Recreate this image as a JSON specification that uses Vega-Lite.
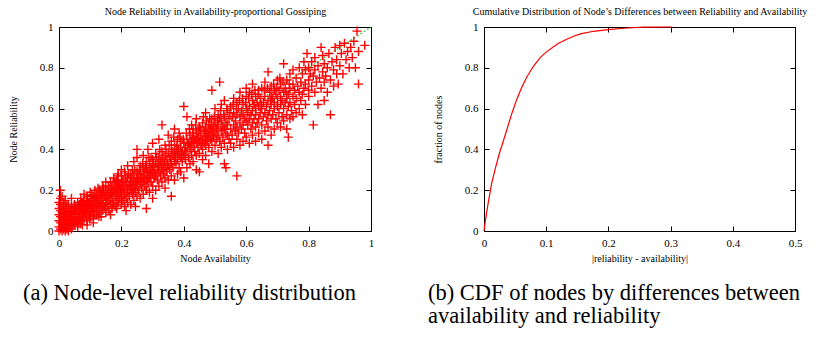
{
  "$schema": "https://vega.github.io/schema/vega-lite/v6.json",
  "padding": {"left": 7, "top": 6, "right": 0, "bottom": 0},
  "background": "#ffffff",
  "spacing": 52,
  "datasets": {
    "diag": [{"a": 0, "r": 0}, {"a": 1, "r": 1}],
    "cdf": [
      {"d": 0, "f": 0}, {"d": 0.002, "f": 0.045}, {"d": 0.005, "f": 0.105}, {"d": 0.008, "f": 0.16}, {"d": 0.0124, "f": 0.235},
      {"d": 0.018, "f": 0.305}, {"d": 0.0247, "f": 0.38}, {"d": 0.03, "f": 0.43}, {"d": 0.0366, "f": 0.495}, {"d": 0.0446, "f": 0.575},
      {"d": 0.0527, "f": 0.645}, {"d": 0.06, "f": 0.7}, {"d": 0.0688, "f": 0.755}, {"d": 0.08, "f": 0.81}, {"d": 0.0903, "f": 0.85},
      {"d": 0.1, "f": 0.877}, {"d": 0.1118, "f": 0.903}, {"d": 0.12, "f": 0.92}, {"d": 0.133, "f": 0.94}, {"d": 0.145, "f": 0.956},
      {"d": 0.155, "f": 0.966}, {"d": 0.176, "f": 0.979}, {"d": 0.203, "f": 0.988}, {"d": 0.23, "f": 0.995}, {"d": 0.257, "f": 0.999},
      {"d": 0.303, "f": 1}
    ],
    "pts": [
      {"a":0,"r":0},{"a":0,"r":0.02},{"a":0,"r":0.05},{"a":0,"r":0.08},{"a":0,"r":0.11},{"a":0,"r":0.14},{"a":0.004,"r":0.2},
      {"a":0.005,"r":0.01},{"a":0.005,"r":0.04},{"a":0.005,"r":0.07},{"a":0.005,"r":0.1},{"a":0.005,"r":0.13},{"a":0.005,"r":0.16},
      {"a":0.01,"r":0},{"a":0.01,"r":0.02},{"a":0.01,"r":0.05},{"a":0.01,"r":0.09},{"a":0.01,"r":0.12},{"a":0.01,"r":0.17},
      {"a":0.015,"r":0.01},{"a":0.015,"r":0.03},{"a":0.015,"r":0.06},{"a":0.015,"r":0.1},{"a":0.015,"r":0.14},
      {"a":0.02,"r":0},{"a":0.02,"r":0.02},{"a":0.02,"r":0.04},{"a":0.02,"r":0.07},{"a":0.02,"r":0.11},{"a":0.02,"r":0.15},
      {"a":0.025,"r":0.01},{"a":0.025,"r":0.05},{"a":0.025,"r":0.08},{"a":0.025,"r":0.12},
      {"a":0.03,"r":0},{"a":0.03,"r":0.02},{"a":0.03,"r":0.04},{"a":0.03,"r":0.06},{"a":0.03,"r":0.09},{"a":0.03,"r":0.13},
      {"a":0.035,"r":0.03},{"a":0.035,"r":0.07},{"a":0.035,"r":0.1},
      {"a":0.04,"r":0.01},{"a":0.04,"r":0.05},{"a":0.04,"r":0.08},{"a":0.04,"r":0.12},{"a":0.04,"r":0.16},
      {"a":0.045,"r":0.04},{"a":0.045,"r":0.07},{"a":0.045,"r":0.11},
      {"a":0.05,"r":0.03},{"a":0.05,"r":0.06},{"a":0.05,"r":0.09},{"a":0.05,"r":0.13},
      {"a":0.055,"r":0.05},{"a":0.055,"r":0.1},{"a":0.06,"r":0.02},{"a":0.06,"r":0.04},{"a":0.06,"r":0.07},{"a":0.06,"r":0.11},{"a":0.06,"r":0.14},
      {"a":0.065,"r":0.06},{"a":0.065,"r":0.09},{"a":0.065,"r":0.13},
      {"a":0.07,"r":0.05},{"a":0.07,"r":0.08},{"a":0.07,"r":0.1},{"a":0.07,"r":0.12},{"a":0.07,"r":0.16},
      {"a":0.075,"r":0.03},{"a":0.075,"r":0.07},{"a":0.075,"r":0.11},{"a":0.075,"r":0.14},
      {"a":0.08,"r":0.06},{"a":0.08,"r":0.09},{"a":0.08,"r":0.12},{"a":0.08,"r":0.15},{"a":0.08,"r":0.18},
      {"a":0.085,"r":0.08},{"a":0.085,"r":0.11},{"a":0.085,"r":0.13},
      {"a":0.09,"r":0.03},{"a":0.09,"r":0.05},{"a":0.09,"r":0.09},{"a":0.09,"r":0.12},{"a":0.09,"r":0.15},{"a":0.09,"r":0.17},
      {"a":0.095,"r":0.08},{"a":0.095,"r":0.1},{"a":0.095,"r":0.14},
      {"a":0.1,"r":0.07},{"a":0.1,"r":0.1},{"a":0.1,"r":0.13},{"a":0.1,"r":0.16},{"a":0.1,"r":0.19},
      {"a":0.105,"r":0.09},{"a":0.105,"r":0.12},{"a":0.105,"r":0.15},
      {"a":0.11,"r":0.04},{"a":0.11,"r":0.06},{"a":0.11,"r":0.1},{"a":0.11,"r":0.13},{"a":0.11,"r":0.17},
      {"a":0.115,"r":0.11},{"a":0.115,"r":0.14},{"a":0.115,"r":0.2},
      {"a":0.12,"r":0.08},{"a":0.12,"r":0.12},{"a":0.12,"r":0.15},{"a":0.12,"r":0.18},
      {"a":0.125,"r":0.1},{"a":0.125,"r":0.13},{"a":0.125,"r":0.16},{"a":0.125,"r":0.21},
      {"a":0.13,"r":0.09},{"a":0.13,"r":0.12},{"a":0.13,"r":0.14},{"a":0.13,"r":0.17},{"a":0.13,"r":0.2},
      {"a":0.135,"r":0.07},{"a":0.135,"r":0.11},{"a":0.135,"r":0.15},{"a":0.135,"r":0.18},
      {"a":0.14,"r":0.1},{"a":0.14,"r":0.13},{"a":0.14,"r":0.16},{"a":0.14,"r":0.19},{"a":0.14,"r":0.22},
      {"a":0.145,"r":0.12},{"a":0.145,"r":0.17},
      {"a":0.15,"r":0.09},{"a":0.15,"r":0.14},{"a":0.15,"r":0.16},{"a":0.15,"r":0.2},{"a":0.15,"r":0.24},
      {"a":0.155,"r":0.12},{"a":0.155,"r":0.18},
      {"a":0.16,"r":0.1},{"a":0.16,"r":0.15},{"a":0.16,"r":0.17},{"a":0.16,"r":0.21},
      {"a":0.165,"r":0.08},{"a":0.165,"r":0.13},{"a":0.165,"r":0.19},{"a":0.165,"r":0.24},
      {"a":0.17,"r":0.11},{"a":0.17,"r":0.16},{"a":0.17,"r":0.18},{"a":0.17,"r":0.22},
      {"a":0.175,"r":0.14},{"a":0.175,"r":0.2},{"a":0.175,"r":0.26},
      {"a":0.18,"r":0.12},{"a":0.18,"r":0.17},{"a":0.18,"r":0.19},{"a":0.18,"r":0.23},
      {"a":0.185,"r":0.11},{"a":0.185,"r":0.15},{"a":0.185,"r":0.21},{"a":0.185,"r":0.25},
      {"a":0.19,"r":0.14},{"a":0.19,"r":0.18},{"a":0.19,"r":0.2},{"a":0.19,"r":0.24},{"a":0.19,"r":0.28},
      {"a":0.195,"r":0.16},{"a":0.195,"r":0.22},
      {"a":0.2,"r":0.13},{"a":0.2,"r":0.17},{"a":0.2,"r":0.21},{"a":0.2,"r":0.23},{"a":0.2,"r":0.27},{"a":0.2,"r":0.3},
      {"a":0.205,"r":0.15},{"a":0.205,"r":0.2},{"a":0.205,"r":0.25},
      {"a":0.21,"r":0.12},{"a":0.21,"r":0.18},{"a":0.21,"r":0.22},{"a":0.21,"r":0.29},
      {"a":0.215,"r":0.1},{"a":0.215,"r":0.16},{"a":0.215,"r":0.24},
      {"a":0.22,"r":0.14},{"a":0.22,"r":0.19},{"a":0.22,"r":0.21},{"a":0.22,"r":0.26},{"a":0.22,"r":0.32},
      {"a":0.225,"r":0.17},{"a":0.225,"r":0.23},
      {"a":0.23,"r":0.13},{"a":0.23,"r":0.2},{"a":0.23,"r":0.24},{"a":0.23,"r":0.28},
      {"a":0.235,"r":0.18},{"a":0.235,"r":0.22},{"a":0.235,"r":0.3},
      {"a":0.24,"r":0.15},{"a":0.24,"r":0.21},{"a":0.24,"r":0.25},{"a":0.24,"r":0.27},{"a":0.24,"r":0.34},
      {"a":0.245,"r":0.12},{"a":0.245,"r":0.19},{"a":0.245,"r":0.23},
      {"a":0.25,"r":0.17},{"a":0.25,"r":0.22},{"a":0.25,"r":0.26},{"a":0.25,"r":0.29},{"a":0.25,"r":0.36},{"a":0.25,"r":0.4},
      {"a":0.255,"r":0.2},{"a":0.255,"r":0.25},
      {"a":0.26,"r":0.16},{"a":0.26,"r":0.23},{"a":0.26,"r":0.28},{"a":0.26,"r":0.32},
      {"a":0.265,"r":0.21},{"a":0.265,"r":0.26},
      {"a":0.27,"r":0.18},{"a":0.27,"r":0.24},{"a":0.27,"r":0.27},{"a":0.27,"r":0.31},{"a":0.27,"r":0.37},
      {"a":0.275,"r":0.22},{"a":0.275,"r":0.29},
      {"a":0.28,"r":0.11},{"a":0.28,"r":0.2},{"a":0.28,"r":0.25},{"a":0.28,"r":0.3},{"a":0.28,"r":0.34},
      {"a":0.285,"r":0.23},{"a":0.285,"r":0.27},{"a":0.285,"r":0.4},
      {"a":0.29,"r":0.19},{"a":0.29,"r":0.26},{"a":0.29,"r":0.29},{"a":0.29,"r":0.33},
      {"a":0.295,"r":0.24},{"a":0.295,"r":0.31},{"a":0.295,"r":0.36},
      {"a":0.3,"r":0.16},{"a":0.3,"r":0.22},{"a":0.3,"r":0.28},{"a":0.3,"r":0.32},{"a":0.3,"r":0.35},{"a":0.3,"r":0.43},
      {"a":0.305,"r":0.26},{"a":0.305,"r":0.3},
      {"a":0.31,"r":0.2},{"a":0.31,"r":0.27},{"a":0.31,"r":0.33},{"a":0.31,"r":0.38},
      {"a":0.315,"r":0.25},{"a":0.315,"r":0.3},
      {"a":0.32,"r":0.22},{"a":0.32,"r":0.29},{"a":0.32,"r":0.32},{"a":0.32,"r":0.36},{"a":0.32,"r":0.45},
      {"a":0.325,"r":0.27},{"a":0.325,"r":0.34},
      {"a":0.33,"r":0.24},{"a":0.33,"r":0.3},{"a":0.33,"r":0.35},{"a":0.33,"r":0.39},{"a":0.33,"r":0.52},
      {"a":0.335,"r":0.28},{"a":0.335,"r":0.33},
      {"a":0.34,"r":0.21},{"a":0.34,"r":0.26},{"a":0.34,"r":0.31},{"a":0.34,"r":0.37},{"a":0.34,"r":0.42},
      {"a":0.345,"r":0.29},{"a":0.345,"r":0.35},
      {"a":0.35,"r":0.25},{"a":0.35,"r":0.32},{"a":0.35,"r":0.38},{"a":0.35,"r":0.47},
      {"a":0.355,"r":0.3},{"a":0.355,"r":0.36},
      {"a":0.36,"r":0.17},{"a":0.36,"r":0.27},{"a":0.36,"r":0.33},{"a":0.36,"r":0.4},{"a":0.36,"r":0.44},
      {"a":0.365,"r":0.31},{"a":0.365,"r":0.37},
      {"a":0.37,"r":0.25},{"a":0.37,"r":0.34},{"a":0.37,"r":0.38},{"a":0.37,"r":0.42},{"a":0.37,"r":0.5},
      {"a":0.375,"r":0.33},{"a":0.375,"r":0.4},
      {"a":0.38,"r":0.28},{"a":0.38,"r":0.35},{"a":0.38,"r":0.39},{"a":0.38,"r":0.45},
      {"a":0.385,"r":0.31},{"a":0.385,"r":0.37},{"a":0.385,"r":0.48},
      {"a":0.39,"r":0.29},{"a":0.39,"r":0.36},{"a":0.39,"r":0.41},{"a":0.39,"r":0.44},
      {"a":0.395,"r":0.34},{"a":0.395,"r":0.39},
      {"a":0.4,"r":0.26},{"a":0.4,"r":0.37},{"a":0.4,"r":0.43},{"a":0.4,"r":0.61},
      {"a":0.405,"r":0.35},{"a":0.405,"r":0.41},
      {"a":0.41,"r":0.31},{"a":0.41,"r":0.39},{"a":0.41,"r":0.45},{"a":0.41,"r":0.56},
      {"a":0.415,"r":0.36},{"a":0.415,"r":0.43},
      {"a":0.42,"r":0.33},{"a":0.42,"r":0.4},{"a":0.42,"r":0.42},{"a":0.42,"r":0.47},
      {"a":0.425,"r":0.37},{"a":0.425,"r":0.44},{"a":0.425,"r":0.52},
      {"a":0.43,"r":0.34},{"a":0.43,"r":0.41},{"a":0.43,"r":0.46},{"a":0.43,"r":0.5},
      {"a":0.435,"r":0.39},{"a":0.435,"r":0.45},
      {"a":0.44,"r":0.3},{"a":0.44,"r":0.37},{"a":0.44,"r":0.43},{"a":0.44,"r":0.48},{"a":0.44,"r":0.55},
      {"a":0.445,"r":0.41},{"a":0.445,"r":0.46},
      {"a":0.45,"r":0.29},{"a":0.45,"r":0.38},{"a":0.45,"r":0.44},{"a":0.45,"r":0.51},
      {"a":0.455,"r":0.42},{"a":0.455,"r":0.47},
      {"a":0.46,"r":0.35},{"a":0.46,"r":0.4},{"a":0.46,"r":0.45},{"a":0.46,"r":0.53},
      {"a":0.465,"r":0.43},{"a":0.465,"r":0.49},
      {"a":0.47,"r":0.37},{"a":0.47,"r":0.42},{"a":0.47,"r":0.46},{"a":0.47,"r":0.51},{"a":0.47,"r":0.58},
      {"a":0.475,"r":0.44},{"a":0.475,"r":0.48},
      {"a":0.48,"r":0.33},{"a":0.48,"r":0.41},{"a":0.48,"r":0.47},{"a":0.48,"r":0.52},
      {"a":0.485,"r":0.45},{"a":0.485,"r":0.5},
      {"a":0.49,"r":0.39},{"a":0.49,"r":0.44},{"a":0.49,"r":0.49},{"a":0.49,"r":0.55},{"a":0.49,"r":0.69},
      {"a":0.495,"r":0.46},{"a":0.495,"r":0.51},
      {"a":0.5,"r":0.42},{"a":0.5,"r":0.48},{"a":0.5,"r":0.53},{"a":0.5,"r":0.6},
      {"a":0.505,"r":0.45},{"a":0.505,"r":0.5},
      {"a":0.51,"r":0.38},{"a":0.51,"r":0.47},{"a":0.51,"r":0.52},{"a":0.51,"r":0.57},
      {"a":0.515,"r":0.44},{"a":0.515,"r":0.55},{"a":0.515,"r":0.73},
      {"a":0.52,"r":0.41},{"a":0.52,"r":0.49},{"a":0.52,"r":0.54},{"a":0.52,"r":0.62},
      {"a":0.525,"r":0.46},{"a":0.525,"r":0.51},
      {"a":0.53,"r":0.33},{"a":0.53,"r":0.43},{"a":0.53,"r":0.5},{"a":0.53,"r":0.56},{"a":0.53,"r":0.64},
      {"a":0.535,"r":0.31},{"a":0.535,"r":0.48},{"a":0.535,"r":0.53},
      {"a":0.54,"r":0.4},{"a":0.54,"r":0.47},{"a":0.54,"r":0.52},{"a":0.54,"r":0.59},
      {"a":0.545,"r":0.45},{"a":0.545,"r":0.55},
      {"a":0.55,"r":0.43},{"a":0.55,"r":0.5},{"a":0.55,"r":0.61},
      {"a":0.555,"r":0.47},{"a":0.555,"r":0.56},
      {"a":0.56,"r":0.41},{"a":0.56,"r":0.52},{"a":0.56,"r":0.58},{"a":0.56,"r":0.65},
      {"a":0.565,"r":0.49},{"a":0.565,"r":0.54},
      {"a":0.57,"r":0.27},{"a":0.57,"r":0.45},{"a":0.57,"r":0.51},{"a":0.57,"r":0.57},{"a":0.57,"r":0.63},
      {"a":0.575,"r":0.48},{"a":0.575,"r":0.6},
      {"a":0.58,"r":0.42},{"a":0.58,"r":0.53},{"a":0.58,"r":0.56},{"a":0.58,"r":0.68},
      {"a":0.585,"r":0.5},{"a":0.585,"r":0.59},
      {"a":0.59,"r":0.44},{"a":0.59,"r":0.52},{"a":0.59,"r":0.57},{"a":0.59,"r":0.62},
      {"a":0.595,"r":0.48},{"a":0.595,"r":0.55},
      {"a":0.6,"r":0.46},{"a":0.6,"r":0.54},{"a":0.6,"r":0.6},{"a":0.6,"r":0.66},{"a":0.6,"r":0.7},
      {"a":0.605,"r":0.52},{"a":0.605,"r":0.58},
      {"a":0.61,"r":0.43},{"a":0.61,"r":0.55},{"a":0.61,"r":0.61},{"a":0.61,"r":0.68},
      {"a":0.615,"r":0.5},{"a":0.615,"r":0.57},
      {"a":0.62,"r":0.47},{"a":0.62,"r":0.53},{"a":0.62,"r":0.59},{"a":0.62,"r":0.64},{"a":0.62,"r":0.72},
      {"a":0.625,"r":0.55},{"a":0.625,"r":0.62},
      {"a":0.63,"r":0.44},{"a":0.63,"r":0.51},{"a":0.63,"r":0.57},{"a":0.63,"r":0.6},{"a":0.63,"r":0.66},
      {"a":0.635,"r":0.53},{"a":0.635,"r":0.63},
      {"a":0.64,"r":0.48},{"a":0.64,"r":0.55},{"a":0.64,"r":0.61},{"a":0.64,"r":0.69},
      {"a":0.645,"r":0.58},{"a":0.645,"r":0.65},
      {"a":0.65,"r":0.45},{"a":0.65,"r":0.52},{"a":0.65,"r":0.6},{"a":0.65,"r":0.7},
      {"a":0.655,"r":0.56},{"a":0.655,"r":0.63},
      {"a":0.66,"r":0.49},{"a":0.66,"r":0.58},{"a":0.66,"r":0.66},{"a":0.66,"r":0.73},
      {"a":0.665,"r":0.54},{"a":0.665,"r":0.61},
      {"a":0.67,"r":0.42},{"a":0.67,"r":0.51},{"a":0.67,"r":0.57},{"a":0.67,"r":0.64},{"a":0.67,"r":0.78},
      {"a":0.675,"r":0.59},{"a":0.675,"r":0.68},
      {"a":0.68,"r":0.47},{"a":0.68,"r":0.55},{"a":0.68,"r":0.62},{"a":0.68,"r":0.66},{"a":0.68,"r":0.71},
      {"a":0.685,"r":0.57},{"a":0.685,"r":0.65},
      {"a":0.69,"r":0.5},{"a":0.69,"r":0.6},{"a":0.69,"r":0.63},{"a":0.69,"r":0.69},
      {"a":0.695,"r":0.55},{"a":0.695,"r":0.67},
      {"a":0.7,"r":0.53},{"a":0.7,"r":0.61},{"a":0.7,"r":0.65},{"a":0.7,"r":0.74},
      {"a":0.705,"r":0.58},{"a":0.705,"r":0.69},
      {"a":0.71,"r":0.51},{"a":0.71,"r":0.62},{"a":0.71,"r":0.66},{"a":0.71,"r":0.72},
      {"a":0.715,"r":0.56},{"a":0.715,"r":0.64},
      {"a":0.72,"r":0.54},{"a":0.72,"r":0.6},{"a":0.72,"r":0.68},{"a":0.72,"r":0.82},
      {"a":0.725,"r":0.63},{"a":0.725,"r":0.7},
      {"a":0.73,"r":0.5},{"a":0.73,"r":0.57},{"a":0.73,"r":0.65},{"a":0.73,"r":0.74},
      {"a":0.735,"r":0.46},{"a":0.735,"r":0.61},{"a":0.735,"r":0.67},
      {"a":0.74,"r":0.55},{"a":0.74,"r":0.63},{"a":0.74,"r":0.7},{"a":0.74,"r":0.77},
      {"a":0.745,"r":0.59},
      {"a":0.75,"r":0.56},{"a":0.75,"r":0.66},{"a":0.75,"r":0.72},{"a":0.75,"r":0.79},
      {"a":0.755,"r":0.62},{"a":0.755,"r":0.69},
      {"a":0.76,"r":0.58},{"a":0.76,"r":0.65},{"a":0.76,"r":0.75},{"a":0.765,"r":0.71},
      {"a":0.77,"r":0.6},{"a":0.77,"r":0.68},{"a":0.77,"r":0.8},
      {"a":0.775,"r":0.64},{"a":0.775,"r":0.73},
      {"a":0.78,"r":0.57},{"a":0.78,"r":0.67},{"a":0.78,"r":0.77},
      {"a":0.785,"r":0.7},{"a":0.785,"r":0.83},
      {"a":0.79,"r":0.62},{"a":0.79,"r":0.72},{"a":0.79,"r":0.79},{"a":0.795,"r":0.87},
      {"a":0.8,"r":0.66},{"a":0.8,"r":0.69},{"a":0.8,"r":0.74},{"a":0.8,"r":0.8},
      {"a":0.805,"r":0.77},{"a":0.81,"r":0.71},{"a":0.81,"r":0.83},
      {"a":0.815,"r":0.52},{"a":0.815,"r":0.76},
      {"a":0.82,"r":0.68},{"a":0.82,"r":0.79},{"a":0.82,"r":0.85},
      {"a":0.825,"r":0.73},{"a":0.83,"r":0.62},{"a":0.83,"r":0.81},{"a":0.835,"r":0.75},
      {"a":0.84,"r":0.7},{"a":0.84,"r":0.9},{"a":0.845,"r":0.78},{"a":0.845,"r":0.86},
      {"a":0.85,"r":0.64},{"a":0.85,"r":0.73},{"a":0.85,"r":0.82},
      {"a":0.855,"r":0.76},{"a":0.86,"r":0.68},{"a":0.86,"r":0.8},{"a":0.865,"r":0.87},
      {"a":0.87,"r":0.57},{"a":0.87,"r":0.74},{"a":0.875,"r":0.83},
      {"a":0.88,"r":0.71},{"a":0.88,"r":0.79},{"a":0.885,"r":0.9},
      {"a":0.89,"r":0.77},{"a":0.89,"r":0.84},{"a":0.895,"r":0.72},
      {"a":0.9,"r":0.81},{"a":0.9,"r":0.91},{"a":0.905,"r":0.87},{"a":0.91,"r":0.77},
      {"a":0.915,"r":0.92},{"a":0.92,"r":0.84},{"a":0.925,"r":0.88},{"a":0.93,"r":0.8},
      {"a":0.935,"r":0.9},{"a":0.94,"r":0.85},{"a":0.945,"r":0.93},{"a":0.95,"r":0.8},
      {"a":0.955,"r":0.98},{"a":0.96,"r":0.72},{"a":0.96,"r":0.88},{"a":0.98,"r":0.91},
      {"a":0.012,"r":0.035},{"a":0.018,"r":0.085},{"a":0.022,"r":0.13},{"a":0.028,"r":0.025},{"a":0.033,"r":0.055},
      {"a":0.038,"r":0.095},{"a":0.043,"r":0.025},{"a":0.048,"r":0.085},{"a":0.052,"r":0.115},{"a":0.058,"r":0.085},
      {"a":0.062,"r":0.125},{"a":0.068,"r":0.035},{"a":0.072,"r":0.14},{"a":0.078,"r":0.095},{"a":0.083,"r":0.105},
      {"a":0.088,"r":0.145},{"a":0.093,"r":0.125},{"a":0.098,"r":0.06},{"a":0.103,"r":0.175},{"a":0.108,"r":0.11},
      {"a":0.113,"r":0.08},{"a":0.118,"r":0.165},{"a":0.123,"r":0.14},{"a":0.128,"r":0.07},{"a":0.133,"r":0.19},
      {"a":0.138,"r":0.13},{"a":0.143,"r":0.21},{"a":0.148,"r":0.11},{"a":0.153,"r":0.15},{"a":0.158,"r":0.22},
      {"a":0.163,"r":0.16},{"a":0.168,"r":0.2},{"a":0.173,"r":0.13},{"a":0.178,"r":0.24},{"a":0.183,"r":0.18},
      {"a":0.188,"r":0.27},{"a":0.193,"r":0.22},{"a":0.198,"r":0.19},{"a":0.203,"r":0.24},{"a":0.208,"r":0.16},
      {"a":0.213,"r":0.27},{"a":0.218,"r":0.2},{"a":0.223,"r":0.28},{"a":0.228,"r":0.22},{"a":0.233,"r":0.26},
      {"a":0.238,"r":0.2},{"a":0.243,"r":0.3},{"a":0.248,"r":0.24},{"a":0.253,"r":0.28},{"a":0.258,"r":0.3},
      {"a":0.263,"r":0.24},{"a":0.268,"r":0.33},{"a":0.273,"r":0.26},{"a":0.278,"r":0.32},{"a":0.283,"r":0.29},
      {"a":0.288,"r":0.36},{"a":0.293,"r":0.28},{"a":0.298,"r":0.3},{"a":0.303,"r":0.34},{"a":0.308,"r":0.28},
      {"a":0.313,"r":0.36},{"a":0.318,"r":0.33},{"a":0.323,"r":0.4},{"a":0.328,"r":0.31},{"a":0.333,"r":0.37},
      {"a":0.338,"r":0.34},{"a":0.343,"r":0.4},{"a":0.348,"r":0.33},{"a":0.353,"r":0.42},{"a":0.358,"r":0.35},
      {"a":0.363,"r":0.39},{"a":0.368,"r":0.46},{"a":0.373,"r":0.36},{"a":0.378,"r":0.42},{"a":0.383,"r":0.4},
      {"a":0.388,"r":0.46},{"a":0.393,"r":0.38},{"a":0.398,"r":0.45},{"a":0.403,"r":0.39},{"a":0.408,"r":0.48},
      {"a":0.413,"r":0.42},{"a":0.418,"r":0.5},{"a":0.423,"r":0.41},{"a":0.428,"r":0.48},{"a":0.433,"r":0.43},
      {"a":0.438,"r":0.52},{"a":0.443,"r":0.45},{"a":0.448,"r":0.49},{"a":0.453,"r":0.5},{"a":0.458,"r":0.44},
      {"a":0.463,"r":0.56},{"a":0.468,"r":0.48},{"a":0.473,"r":0.54},{"a":0.478,"r":0.46},{"a":0.483,"r":0.55},
      {"a":0.488,"r":0.52},{"a":0.493,"r":0.47},{"a":0.498,"r":0.56},{"a":0.508,"r":0.54},{"a":0.518,"r":0.59},
      {"a":0.528,"r":0.57},{"a":0.538,"r":0.6},{"a":0.548,"r":0.58},{"a":0.558,"r":0.62},{"a":0.568,"r":0.6},
      {"a":0.578,"r":0.64},{"a":0.588,"r":0.65},{"a":0.598,"r":0.63},{"a":0.608,"r":0.65},{"a":0.618,"r":0.67},
      {"a":0.628,"r":0.69},{"a":0.638,"r":0.67},{"a":0.648,"r":0.62},{"a":0.658,"r":0.69},{"a":0.668,"r":0.7},
      {"a":0.678,"r":0.64},{"a":0.688,"r":0.72},{"a":0.698,"r":0.7},{"a":0.708,"r":0.75},{"a":0.718,"r":0.73},
      {"a":0.728,"r":0.68},{"a":0.738,"r":0.72}
    ]
  },
  "hconcat": [
    {
      "width": 312,
      "height": 204,
      "title": {"text": "(a)  Node-level reliability distribution", "orient": "bottom", "anchor": "start", "frame": "group", "dx": -36, "offset": 19, "font": "Liberation Serif", "fontSize": 22.5, "fontWeight": "normal", "color": "#000000"},
      "layer": [
        {
          "data": {"name": "diag"},
          "mark": {"type": "line", "color": "#33cc33", "strokeDash": [2, 2], "strokeWidth": 1.2},
          "encoding": {
            "x": {"field": "a", "type": "quantitative", "scale": {"domain": [0, 1], "nice": false},
                  "axis": {"orient": "top", "labels": false, "values": [0, 0.2, 0.4, 0.6, 0.8, 1], "title": "Node Reliability in Availability-proportional Gossiping", "titlePadding": 10}},
            "y": {"field": "r", "type": "quantitative", "scale": {"domain": [0, 1], "nice": false},
                  "axis": {"orient": "right", "labels": false, "values": [0, 0.2, 0.4, 0.6, 0.8, 1], "title": null}}
          }
        },
        {
          "data": {"name": "pts"},
          "mark": {"type": "point", "shape": "M-1,0L1,0M0,-1L0,1", "size": 81, "filled": false, "stroke": "#ff0000", "strokeWidth": 1.4, "opacity": 1},
          "encoding": {
            "x": {"field": "a", "type": "quantitative", "axis": {"orient": "bottom", "values": [0, 0.2, 0.4, 0.6, 0.8, 1], "format": ".1~f", "title": "Node Availability"}},
            "y": {"field": "r", "type": "quantitative", "axis": {"orient": "left", "values": [0, 0.2, 0.4, 0.6, 0.8, 1], "format": ".1~f", "title": "Node Reliability"}}
          }
        }
      ],
      "resolve": {"axis": {"x": "independent", "y": "independent"}}
    },
    {
      "width": 311,
      "height": 204,
      "title": {"text": ["(b)  CDF of nodes by differences between", "availability and reliability"], "orient": "bottom", "anchor": "start", "frame": "group", "dx": -56, "offset": 19, "lineHeight": 23, "font": "Liberation Serif", "fontSize": 22.5, "fontWeight": "normal", "color": "#000000"},
      "layer": [
        {
          "data": {"name": "cdf"},
          "mark": {"type": "line", "strokeOpacity": 0},
          "encoding": {
            "x": {"field": "d", "type": "quantitative", "scale": {"domain": [0, 0.5], "nice": false},
                  "axis": {"orient": "top", "labels": false, "values": [0, 0.1, 0.2, 0.3, 0.4, 0.5], "title": "Cumulative Distribution of Node\u2019s Differences between Reliability and Availability", "titlePadding": 10}},
            "y": {"field": "f", "type": "quantitative", "scale": {"domain": [0, 1], "nice": false},
                  "axis": {"orient": "right", "labels": false, "values": [0, 0.2, 0.4, 0.6, 0.8, 1], "title": null}}
          }
        },
        {
          "data": {"name": "cdf"},
          "mark": {"type": "line", "color": "#ff0000", "strokeWidth": 1.2},
          "encoding": {
            "x": {"field": "d", "type": "quantitative", "axis": {"orient": "bottom", "values": [0, 0.1, 0.2, 0.3, 0.4, 0.5], "format": ".1~f", "title": "|reliability - availability|"}},
            "y": {"field": "f", "type": "quantitative", "axis": {"orient": "left", "values": [0, 0.2, 0.4, 0.6, 0.8, 1], "format": ".1~f", "title": "fraction of nodes"}}
          }
        }
      ],
      "resolve": {"axis": {"x": "independent", "y": "independent"}}
    }
  ],
  "config": {
    "view": {"stroke": "#000000", "strokeWidth": 1},
    "axis": {
      "grid": false, "domainColor": "#000000", "domainWidth": 1, "tickColor": "#000000", "tickSize": -5, "tickWidth": 1,
      "labelFont": "Liberation Serif", "labelFontSize": 11, "labelColor": "#000000", "labelFlush": false, "labelOverlap": false, "labelPadding": 11,
      "titleFont": "Liberation Serif", "titleFontSize": 10, "titleFontWeight": "normal", "titleColor": "#000000", "titlePadding": 5
    },
    "axisY": {"titlePadding": 21},
    "title": {"font": "Liberation Serif", "fontSize": 22.5, "fontWeight": "normal", "color": "#000000"}
  }
}
